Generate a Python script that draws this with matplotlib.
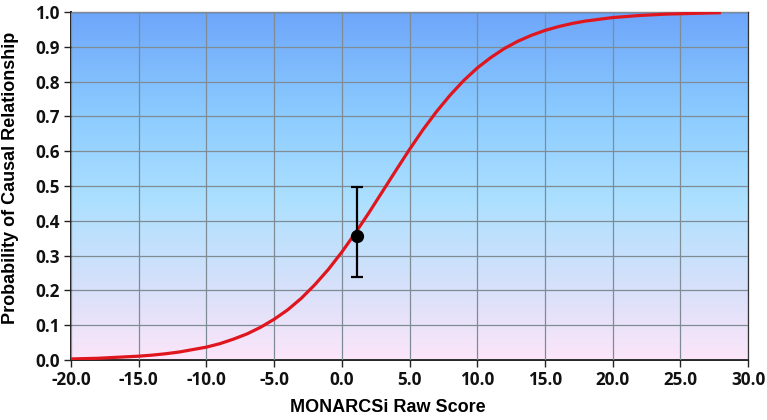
import numpy as np
import matplotlib.pyplot as plt
from matplotlib.colors import LinearSegmentedColormap
from matplotlib.font_manager import FontProperties

# curve values (raw score -> probability)
score = [-20, -19, -18, -17, -16, -15, -14, -13, -12, -11, -10, -9, -8, -7, -6,
         -5, -4, -3, -2, -1, 0, 1, 2, 3, 4, 5, 6, 7, 8, 9, 10, 11, 12, 13, 14,
         15, 16, 17, 18, 19, 20, 21, 22, 23, 24, 25, 26, 27, 28]
prob = [0.003, 0.004, 0.005, 0.007, 0.009, 0.011, 0.014, 0.018, 0.023, 0.030,
        0.037, 0.047, 0.060, 0.075, 0.094, 0.117, 0.144, 0.177, 0.216, 0.260,
        0.310, 0.365, 0.423, 0.484, 0.545, 0.605, 0.662, 0.714, 0.761, 0.803,
        0.839, 0.869, 0.895, 0.916, 0.933, 0.947, 0.958, 0.967, 0.974, 0.979,
        0.984, 0.987, 0.990, 0.992, 0.994, 0.995, 0.996, 0.997, 0.998]

# observed point with its interval
pt_x = 1.12
pt_y = 0.357
pt_lo = 0.238
pt_hi = 0.497

tick_fp = FontProperties(family="Open Sans", weight="bold", size=12.3)
label_fp = FontProperties(family="Liberation Sans", weight="bold", size=13)

fig = plt.figure(figsize=(7.67, 4.2), dpi=100)
ax = fig.add_axes([71 / 767, 1 - 360 / 420, 677 / 767, 348 / 420])

# background gradient, pink at the bottom to blue at the top
bg = LinearSegmentedColormap.from_list("bg", [
    (0.0, (0.99, 0.90, 0.98)),
    (0.2, (0.85, 0.88, 0.98)),
    (0.45, (0.68, 0.88, 1.0)),
    (0.7, (0.55, 0.80, 1.0)),
    (1.0, (0.43, 0.65, 0.98)),
])
grad = np.linspace(0, 1, 256).reshape(-1, 1)
ax.imshow(grad, cmap=bg, origin="lower", aspect="auto",
          extent=[-20, 30, 0, 1], zorder=0)

ax.plot(score, prob, color="#e0161e", lw=2.3, zorder=3, solid_capstyle="butt")
ax.errorbar([pt_x], [pt_y], yerr=[[pt_y - pt_lo], [pt_hi - pt_y]],
            fmt="o", color="black", ms=8.5, elinewidth=1.6, capsize=4.5,
            capthick=1.6, zorder=4)

ax.set_xlim(-20, 30)
ax.set_ylim(0, 1)
xt = np.arange(-20, 31, 5)
yt = np.arange(0, 1.01, 0.1)
ax.set_xticks(xt)
ax.set_yticks(yt)
ax.set_xticklabels([f"{v:.1f}" for v in xt], fontproperties=tick_fp)
ax.set_yticklabels([f"{v:.1f}" for v in yt], fontproperties=tick_fp)
ax.grid(True, color="#7f8c96", lw=0.9, zorder=1)
ax.set_axisbelow(False)
for line in ax.get_xgridlines() + ax.get_ygridlines():
    line.set_zorder(1)

for s in ["left", "bottom"]:
    ax.spines[s].set_linewidth(1.4)
    ax.spines[s].set_color("#222222")
for s in ["top", "right"]:
    ax.spines[s].set_linewidth(0.9)
    ax.spines[s].set_color("#333333")

ax.tick_params(direction="out", length=5, width=1, colors="#222222", pad=3)
for lab in ax.get_xticklabels() + ax.get_yticklabels():
    lab.set_color("#111111")

# axis titles placed where the reference has them
fig.text(388 / 767, 1 - 407 / 420, "MONARCSi Raw Score", fontproperties=label_fp,
         ha="center", va="center")
fig.text(11 / 767, 1 - 178 / 420, "Probability of Causal Relationship",
         fontproperties=label_fp, ha="center", va="center", rotation=90)

fig.savefig("out.png", dpi=100)
